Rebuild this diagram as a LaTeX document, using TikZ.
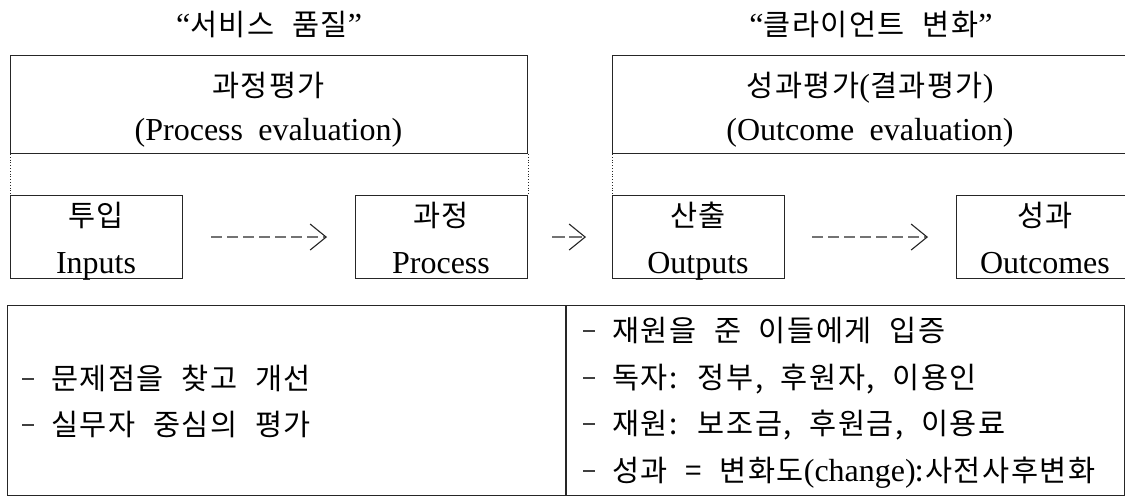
\documentclass[tikz,border=0pt]{standalone}
\usepackage{fontspec}
\setmainfont{Liberation Serif}[WordSpace=1.9]
\newfontfamily\kr{Noto Sans CJK KR}[Scale=0.92,WordSpace=2.2,LetterSpace=5]
\newcommand\dsh{\textcolor{black!75}{\rule[9.5pt]{12pt}{1.2pt}}\hspace{17pt}}
\usetikzlibrary{arrows.meta}
\begin{document}
\begin{tikzpicture}[x=1pt,y=-1pt,
  font=\fontsize{32}{47}\selectfont,
  box/.style={draw=black!85,line width=1.1pt,inner sep=0pt,anchor=north west},
  lbl/.style={inner sep=0pt,anchor=base},
  lft/.style={inner sep=0pt,anchor=base west},
  conn/.style={draw=black!55,line width=1.2pt,dash pattern=on 11pt off 5pt,
    -{Straight Barb[length=16pt,width=26pt,line width=1.1pt,color=black!85]}},
  dots/.style={draw=black!85,line width=0.8pt,dotted}]
\useasboundingbox (0,0) rectangle (1125,497);
\fill[white] (0,0) rectangle (1125,497);

% titles
\node[lbl] (t1) at (269,36) {“{\kr 서비스 품질}”};
\node[lbl] (t2) at (871,36) {“{\kr 클라이언트 변화}”};

% evaluation boxes
\node[box,minimum width=517pt,minimum height=98pt] (pe) at (10,55) {};
\node[box,minimum width=516pt,minimum height=98pt] (oe) at (612,55) {};
\node[lbl] (pe1) at (268.5,97) {\kr 과정평가};
\node[lbl] (pe2) at (268.5,141) {(Process evaluation)};
\node[lbl] (oe1) at (870,97) {{\kr 성과평가}({\kr 결과평가})};
\node[lbl] (oe2) at (870,141) {(Outcome evaluation)};

% stage boxes
\node[box,minimum width=172pt,minimum height=83pt] (inp) at (10,195) {};
\node[box,minimum width=172pt,minimum height=83pt] (proc) at (355,195) {};
\node[box,minimum width=172pt,minimum height=83pt] (outp) at (612,195) {};
\node[box,minimum width=172pt,minimum height=83pt] (outc) at (956,195) {};
\node[lbl] (inp1) at (96,227) {\kr 투입};
\node[lbl] (inp2) at (96,273) {Inputs};
\node[lbl] (proc1) at (441,227) {\kr 과정};
\node[lbl] (proc2) at (441,273) {Process};
\node[lbl] (outp1) at (698,227) {\kr 산출};
\node[lbl] (outp2) at (698,273) {Outputs};
\node[lbl] (outc1) at (1045,227) {\kr 성과};
\node[lbl] (outc2) at (1045,273) {Outcomes};

% dotted guides
\draw[dots] (pe.south west) -- (inp.north west);
\draw[dots] (pe.south east) -- (proc.north east);
\draw[dots] (oe.south west) -- (outp.north west);

% connectors
\draw[conn,shorten <=28pt,shorten >=28pt] (inp.east) -- (proc.west);
\draw[conn,dash pattern=on 13pt off 4pt,shorten <=24pt,shorten >=26pt] (proc.east) -- (outp.west);
\draw[conn,shorten <=27pt,shorten >=28pt] (outp.east) -- (outc.west);

% table
\node[box,minimum width=1117pt,minimum height=190pt] (tbl) at (7,305) {};
\coordinate (dt) at (566,305);
\coordinate (db) at (566,495);
\draw[draw=black!85,line width=1.1pt] (dt) -- (db);

\node[lft] (l1) at (22,389) {\dsh{\kr 문제점을 찾고 개선}};
\node[lft] (l2) at (22,435) {\dsh{\kr 실무자 중심의 평가}};

\node[lft] (r1) at (583,341) {\dsh{\kr 재원을 준 이들에게 입증}};
\node[lft] (r2) at (583,388) {\dsh{\kr 독자:  정부, 후원자, 이용인}};
\node[lft] (r3) at (583,434) {\dsh{\kr 재원: 보조금, 후원금, 이용료}};
\node[lft] (r4) at (583,481) {\dsh{\kr 성과 = 변화도}(change){\kr :사전사후변화}};
\end{tikzpicture}
\end{document}
